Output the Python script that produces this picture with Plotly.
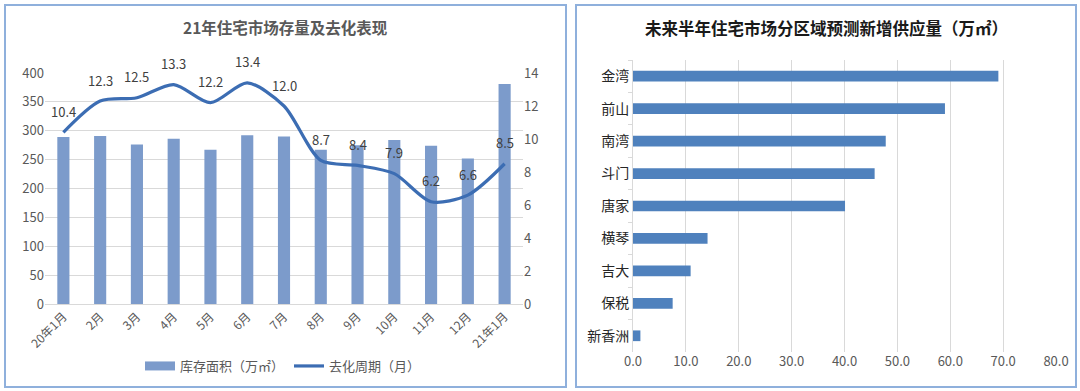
import plotly.graph_objects as go

W, H = 1080, 391

months = ["20年1月", "2月", "3月", "4月", "5月", "6月", "7月", "8月", "9月", "10月", "11月", "12月", "21年1月"]
stock = [289, 291, 276, 286, 267, 292, 290, 267, 275, 284, 274, 252, 381]
cycle = [10.4, 12.3, 12.5, 13.3, 12.2, 13.4, 12.0, 8.7, 8.4, 7.9, 6.2, 6.6, 8.5]

regions = ["金湾", "前山", "南湾", "斗门", "唐家", "横琴", "吉大", "保税", "新香洲"]
supply = [69.1, 59.0, 47.8, 45.7, 40.1, 14.1, 10.9, 7.5, 1.4]

FONT = "Noto Sans CJK SC"
GRID = "#d9d9d9"
TXT = "#595959"
BAR_L = "#7c9bcb"
LINE_C = "#3c6db3"


def px_x(p):
    return p / W


def px_y(p):
    return 1 - p / H


fig = go.Figure()

fig.add_trace(go.Bar(
    x=months, y=stock, name="库存面积（万㎡）", showlegend=False,
    marker=dict(color=BAR_L, line=dict(width=0)),
    xaxis="x", yaxis="y",
))
# legend swatch for the bars (wide rectangle like the original)
fig.add_trace(go.Scatter(
    x=[None], y=[None], name="库存面积（万㎡）", mode="lines",
    line=dict(color=BAR_L, width=9), legendrank=1,
    xaxis="x", yaxis="y",
))
fig.add_trace(go.Scatter(
    x=months, y=cycle, name="去化周期（月）", mode="lines", legendrank=2,
    line=dict(color=LINE_C, width=3.2, shape="spline", smoothing=0.8),
    xaxis="x", yaxis="y2",
))
fig.add_trace(go.Bar(
    x=supply, y=regions, orientation="h", showlegend=False,
    marker=dict(color="#4f81bd", line=dict(width=0)),
    xaxis="x3", yaxis="y3",
))

annotations = []
for m, v in zip(months, cycle):
    annotations.append(dict(
        x=m, y=v, xref="x", yref="y2", text=f"{v:.1f}", showarrow=False,
        yshift=21, font=dict(family=FONT, size=13, color="#404040"),
        xanchor="center", yanchor="middle",
    ))

annotations.append(dict(
    x=px_x(285), y=px_y(27), xref="paper", yref="paper",
    text="<b>21年住宅市场存量及去化表现</b>", showarrow=False,
    xanchor="center", yanchor="middle",
    font=dict(family=FONT, size=15.5, color=TXT),
))
annotations.append(dict(
    x=px_x(826), y=px_y(28), xref="paper", yref="paper",
    text="<b>未来半年住宅市场分区域预测新增供应量（万㎡）</b>", showarrow=False,
    xanchor="center", yanchor="middle",
    font=dict(family=FONT, size=16.5, color="#1a1a1a"),
))

shapes = [
    dict(type="rect", xref="paper", yref="paper",
         x0=px_x(5), x1=px_x(566), y0=px_y(387), y1=px_y(5),
         line=dict(color="#8fb0dc", width=2)),
    dict(type="rect", xref="paper", yref="paper",
         x0=px_x(576), x1=px_x(1076), y0=px_y(387), y1=px_y(5),
         line=dict(color="#8fb0dc", width=2)),
]

fig.update_layout(
    width=W, height=H,
    margin=dict(l=0, r=0, t=0, b=0, autoexpand=False),
    paper_bgcolor="white", plot_bgcolor="white",
    font=dict(family=FONT, color=TXT, size=12),
    bargap=0.67,
    showlegend=True,
    legend=dict(orientation="h", x=px_x(283), y=px_y(366), xanchor="center", yanchor="middle",
                font=dict(family=FONT, size=13, color=TXT), bgcolor="rgba(0,0,0,0)",
                itemwidth=30, tracegroupgap=0),
    xaxis=dict(domain=[px_x(45), px_x(523)], type="category", tickangle=-45, automargin=False,
               showgrid=False, showline=True, linecolor=GRID, linewidth=1,
               ticks="", tickfont=dict(family=FONT, size=12, color=TXT), anchor="y"),
    yaxis=dict(domain=[px_y(304), px_y(73)], range=[0, 400], dtick=50, automargin=False,
               showgrid=True, gridcolor=GRID, gridwidth=1, zeroline=False,
               showline=False, ticks="", tickfont=dict(family=FONT, size=13, color=TXT),
               anchor="x"),
    yaxis2=dict(domain=[px_y(304), px_y(73)], range=[0, 14], dtick=2, overlaying="y",
                side="right", showgrid=False, zeroline=False, showline=False, ticks="",
                automargin=False,
                tickfont=dict(family=FONT, size=13, color=TXT), anchor="x"),
    xaxis3=dict(domain=[px_x(633), px_x(1056)], range=[0, 80], dtick=10, tickformat=".1f",
                automargin=False,
                showgrid=True, gridcolor=GRID, gridwidth=1, zeroline=False, showline=False,
                ticks="", tickfont=dict(family=FONT, size=13, color=TXT), anchor="y3"),
    yaxis3=dict(domain=[px_y(352), px_y(60)], type="category", autorange="reversed",
                automargin=False,
                showgrid=False, showline=True, linecolor=GRID, linewidth=1,
                ticks="outside", tickson="boundaries", ticklen=4, tickcolor=GRID,
                tickfont=dict(family=FONT, size=14, color="#262626"), anchor="x3"),
    annotations=annotations,
    shapes=shapes,
)

fig.write_html("out.html", config={"displayModeBar": False},
               post_script="document.body.style.margin='0';document.body.style.overflow='hidden';")
